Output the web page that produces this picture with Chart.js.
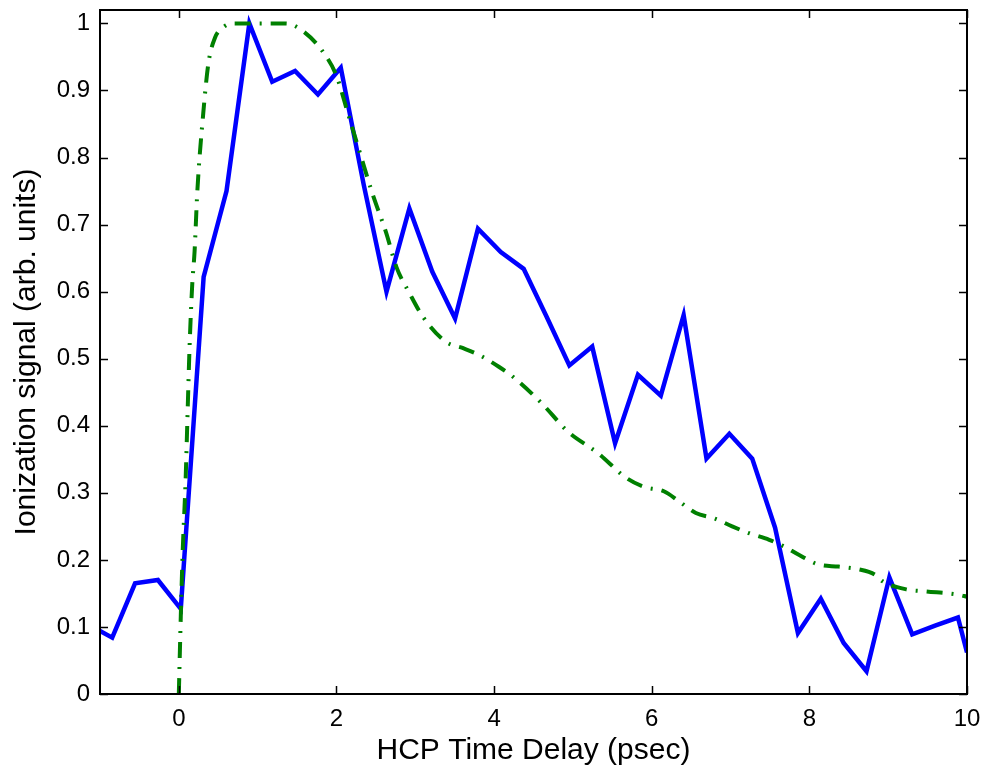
<!DOCTYPE html>
<html>
<head>
<meta charset="utf-8">
<script src="https://cdn.jsdelivr.net/npm/chart.js@4/dist/chart.umd.min.js"></script>
<style>
html,body{margin:0;padding:0;background:#fff;}
canvas{display:block;}
</style>
</head>
<body>
<canvas id="c" width="987" height="771"></canvas>
<script>
// ---- data ----
const measuredX = [-1, -0.845, -0.555, -0.265, 0.025, 0.315, 0.605, 0.895, 1.185, 1.475, 1.765, 2.055, 2.345, 2.635, 2.925, 3.215, 3.505, 3.795, 4.085, 4.375, 4.665, 4.955, 5.245, 5.535, 5.825, 6.115, 6.405, 6.695, 6.985, 7.275, 7.565, 7.855, 8.145, 8.435, 8.725, 9.015, 9.305, 9.595, 9.885, 10];
const measuredY = [0.094, 0.084, 0.165, 0.170, 0.127, 0.622, 0.750, 1.0, 0.913, 0.929, 0.894, 0.934, 0.76, 0.600, 0.724, 0.630, 0.560, 0.694, 0.659, 0.634, 0.563, 0.490, 0.518, 0.374, 0.476, 0.445, 0.565, 0.351, 0.388, 0.351, 0.248, 0.091, 0.142, 0.076, 0.034, 0.174, 0.089, 0.102, 0.114, 0.062];

const modelX = [0, 0.025, 0.05, 0.085, 0.11, 0.135, 0.17, 0.2, 0.235, 0.31, 0.375, 0.46, 0.56, 0.68, 1.0, 1.36, 1.57, 1.82, 2.0, 2.14, 2.29, 2.46, 2.63, 2.76, 2.93, 3.1, 3.39, 3.6, 3.82, 4.06, 4.24, 4.6, 4.94, 5.32, 5.68, 5.9, 6.16, 6.35, 6.56, 6.79, 7.02, 7.23, 7.49, 7.68, 7.86, 8.12, 8.37, 8.62, 8.83, 8.93, 9.23, 9.48, 9.89, 10];
const modelY = [0, 0.116, 0.215, 0.315, 0.414, 0.513, 0.61, 0.66, 0.75, 0.866, 0.94, 0.979, 0.994, 1.0, 1.0, 1.0, 0.989, 0.959, 0.922, 0.868, 0.81, 0.745, 0.688, 0.637, 0.597, 0.562, 0.525, 0.516, 0.505, 0.488, 0.473, 0.434, 0.391, 0.359, 0.322, 0.309, 0.302, 0.287, 0.27, 0.262, 0.25, 0.24, 0.23, 0.22, 0.208, 0.193, 0.19, 0.186, 0.178, 0.168, 0.156, 0.153, 0.148, 0.145];

const xTicks = [0, 2, 4, 6, 8, 10];
const xTickLabels = ['0', '2', '4', '6', '8', '10'];
const yTicks = [0, 0.1, 0.2, 0.3, 0.4, 0.5, 0.6, 0.7, 0.8, 0.9, 1];
const yTickLabels = ['0', '0.1', '0.2', '0.3', '0.4', '0.5', '0.6', '0.7', '0.8', '0.9', '1'];

const xTitle = 'HCP Time Delay (psec)';
const yTitle = 'Ionization signal (arb. units)';

const FONT = '"Liberation Sans", Arial, Helvetica, sans-serif';

const toPoints = (xs, ys) => xs.map((x, i) => ({x: x, y: ys[i]}));

// MATLAB-style box with inward tick marks
const boxPlugin = {
  id: 'box',
  afterDatasetsDraw(chart) {
    const {ctx, chartArea: a, scales} = chart;
    const tl = 8;
    ctx.save();
    ctx.strokeStyle = '#000';
    ctx.lineWidth = 1.5;
    ctx.beginPath();
    xTicks.forEach(v => {
      const px = Math.round(scales.x.getPixelForValue(v)) + 0.5;
      ctx.moveTo(px, a.bottom); ctx.lineTo(px, a.bottom - tl);
      ctx.moveTo(px, a.top); ctx.lineTo(px, a.top + tl);
    });
    yTicks.forEach(v => {
      const py = Math.round(scales.y.getPixelForValue(v)) + 0.5;
      ctx.moveTo(a.left, py); ctx.lineTo(a.left + tl, py);
      ctx.moveTo(a.right, py); ctx.lineTo(a.right - tl, py);
    });
    ctx.stroke();
    ctx.lineWidth = 2;
    ctx.strokeRect(a.left, a.top, a.right - a.left, a.bottom - a.top);
    ctx.restore();
  }
};

new Chart(document.getElementById('c'), {
  type: 'line',
  data: {
    datasets: [
      {
        label: 'model',
        data: toPoints(modelX, modelY),
        borderColor: '#008000',
        borderWidth: 4,
        borderDash: [16, 9, 2, 9],
        borderCapStyle: 'butt',
        cubicInterpolationMode: 'monotone',
        pointRadius: 0,
        fill: false,
        clip: 0,
        order: 0
      },
      {
        label: 'measured',
        data: toPoints(measuredX, measuredY),
        borderColor: '#0000ff',
        borderWidth: 4.5,
        borderJoinStyle: 'miter',
        tension: 0,
        pointRadius: 0,
        fill: false,
        clip: 0,
        order: 1
      }
    ]
  },
  options: {
    responsive: false,
    devicePixelRatio: 1,
    animation: false,
    events: [],
    layout: {padding: {left: 0, right: 20, top: 10, bottom: 0}},
    plugins: {legend: {display: false}, tooltip: {enabled: false}},
    scales: {
      x: {
        type: 'linear',
        min: -1,
        max: 10,
        afterFit(s) { s.height = 77; s.paddingLeft = 0; s.paddingRight = 0; },
        afterBuildTicks(s) { s.ticks = xTicks.map(v => ({value: v})); },
        grid: {display: false, drawTicks: false},
        border: {display: false},
        ticks: {
          padding: 11,
          color: '#000',
          font: {family: FONT, size: 24},
          maxRotation: 0,
          callback: (v) => { const i = xTicks.indexOf(v); return i >= 0 ? xTickLabels[i] : ''; }
        },
        title: {
          display: true,
          text: xTitle,
          color: '#000',
          font: {family: FONT, size: 30},
          padding: {top: 0, bottom: 2}
        }
      },
      y: {
        type: 'linear',
        min: 0,
        max: 1.02,
        afterFit(s) { s.width = 100; s.paddingTop = 0; s.paddingBottom = 0; },
        afterBuildTicks(s) { s.ticks = yTicks.map(v => ({value: v})); },
        grid: {display: false, drawTicks: false},
        border: {display: false},
        ticks: {
          padding: 10,
          color: '#000',
          font: {family: FONT, size: 24},
          callback: (v) => { const i = yTicks.findIndex(t => Math.abs(t - v) < 1e-9); return i >= 0 ? yTickLabels[i] : ''; }
        },
        title: {
          display: true,
          text: yTitle,
          color: '#000',
          font: {family: FONT, size: 30},
          padding: {top: 9, bottom: 0}
        }
      }
    }
  },
  plugins: [boxPlugin]
});
</script>
</body>
</html>
